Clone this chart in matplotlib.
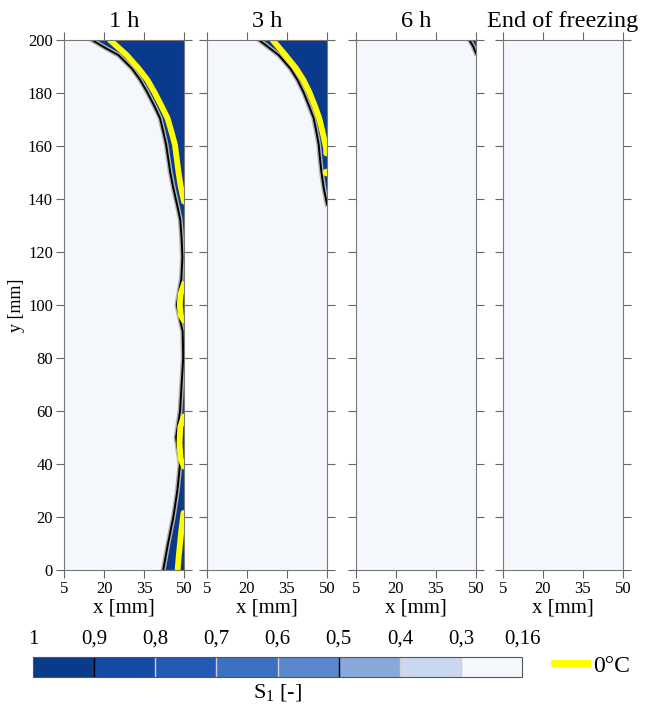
import numpy as np
import matplotlib
matplotlib.use('Agg')
from matplotlib import pyplot as plt
from matplotlib.colors import ListedColormap, BoundaryNorm
from matplotlib.cm import ScalarMappable
from matplotlib.lines import Line2D

plt.rcParams['font.family'] = 'Liberation Serif'
plt.rcParams['mathtext.fontset'] = 'custom'
plt.rcParams['mathtext.rm'] = 'Liberation Serif'

# todo: panel titles and axis ticks
titles = ['1 h', '3 h', '6 h', 'End of freezing']
x_ticks = [5, 20, 35, 50]
y_ticks = [0, 20, 40, 60, 80, 100, 120, 140, 160, 180, 200]

# todo: freezing front (edge of the S1 = 1 zone)
front_y_1h = [200, 197, 194.3, 189.3, 185, 180.3, 175, 170.5, 165, 160.4, 155,
              150.3, 145, 140, 136, 132, 125, 118, 110, 100, 90, 80, 70, 60,
              50, 40, 30, 20, 10, 0]
front_x_1h = [15.5, 20.5, 25.4, 30.4, 33.5, 36.2, 38.9, 41, 42.3, 43.3, 44.1,
              44.8, 45.8, 46.9, 47.8, 48.6, 49.1, 49.4, 49, 47.3, 49.5, 49.7,
              49.1, 48.5, 47, 48.5, 47.5, 46, 44, 42.2]
front_y_3h = [200, 194.3, 189.3, 185, 180.3, 175, 170.5, 165, 160.4, 155,
              150.3, 144, 138]
front_x_3h = [24.5, 31.9, 36.2, 38.9, 41.2, 43.3, 45, 46.1, 46.9, 47.4, 47.9,
              48.8, 50]
front_y_6h = [200, 197.5, 195]
front_x_6h = [47.5, 49, 50]
front_y_end = []
front_x_end = []

# todo: 0 degC isotherm pieces
iso_1h = [
    ([22.2, 28.5, 32.9, 36.2, 38.9, 41.6, 43.8, 45.4, 46.6, 47.3, 47.9, 48.7,
      49.7, 50],
     [200, 194.3, 189.3, 185, 180.3, 175, 170.5, 165, 160.4, 155, 150.3, 145,
      140.3, 139]),
    ([50, 48.7, 48.4, 48.8, 50], [108, 104, 100, 96, 94]),
    ([50, 48.6, 48.3, 48.7, 50], [58, 54, 48, 42, 39]),
    ([49.8, 49, 48.5, 48, 47.6], [21.5, 15, 10, 5, 0]),
]
iso_3h = [
    ([29.6, 34.4, 38.4, 41.1, 43.4, 45.5, 47.1, 48.4, 49.4, 49.7, 49.7],
     [200, 194.3, 189.3, 185, 180.3, 175, 170.5, 165, 160.4, 159, 157.2]),
    ([49.6], [150.3]),
]
iso_6h = []
iso_end = []

fronts = [(front_x_1h, front_y_1h), (front_x_3h, front_y_3h),
          (front_x_6h, front_y_6h), (front_x_end, front_y_end)]
isotherms = [iso_1h, iso_3h, iso_6h, iso_end]

# todo: S1 colour classes
s1_bounds = [0.16, 0.3, 0.4, 0.5, 0.6, 0.7, 0.8, 0.9, 1.0]
s1_colors = ['#f4f8fd', '#c9d8ee', '#88a8da', '#5b87cf', '#3d6fc2', '#2459b5',
             '#1449a6', '#0a3a8c']

fig = plt.figure(figsize=(6.54, 7.13), dpi=100)
lefts = [0.0979, 0.3165, 0.5443, 0.7691]

for i in range(4):
    ax = fig.add_axes([lefts[i], 0.2006, 0.1835, 0.7433])
    ax.set_facecolor(s1_colors[0])
    fx, fy = fronts[i]
    if len(fx):
        ax.fill_betweenx(fy, fx, 50, color=s1_colors[-1], lw=0)
        ax.plot(fx, fy, color='#b0b0b0', lw=3.5)
        ax.plot(fx, fy, color='black', lw=1.4)
    for xs, ys in isotherms[i]:
        if len(xs) == 1:
            ax.plot(xs, ys, 'o', color='#ffff00', ms=5.5, mec='none')
        else:
            ax.plot(xs, ys, color='#ffff00', lw=4.2, solid_capstyle='round')
    ax.set_xlim(5, 50)
    ax.set_ylim(0, 200)
    ax.set_xticks(x_ticks)
    ax.set_yticks(y_ticks)
    ax.tick_params(direction='out', length=6, color='#666666', top=True,
                   right=True, labelsize=12, pad=2)
    if i > 0:
        ax.tick_params(labelleft=False)
    for s in ax.spines.values():
        s.set_color('#777777')
    ax.set_title(titles[i], fontsize=17.5, pad=9)
    ax.set_xlabel('x [mm]', fontsize=15, labelpad=1)
    if i == 0:
        ax.set_ylabel('y [mm]', fontsize=13, labelpad=2)

# todo: colour bar
cmap = ListedColormap(s1_colors)
norm = BoundaryNorm(s1_bounds, cmap.N)
sm = ScalarMappable(norm=norm, cmap=cmap)
cax = fig.add_axes([0.0505, 0.0505, 0.748, 0.028])
cb = fig.colorbar(sm, cax=cax, orientation='horizontal', spacing='uniform',
                  ticks=s1_bounds)
cax.invert_xaxis()
cax.xaxis.set_ticks_position('top')
cax.set_xticklabels([('%g' % b).replace('.', ',') for b in s1_bounds])
cax.tick_params(length=0, labelsize=15, pad=6)
for b in s1_bounds[1:-1]:
    cax.axvline(b, color='black' if b in (0.9, 0.5) else '#d0d0d0', lw=1)
cb.outline.set_edgecolor('#555555')
cb.outline.set_linewidth(0.8)
cax.xaxis.set_label_position('bottom')
cb.set_label(r'S$_\mathrm{1}$ [-]', fontsize=16, labelpad=4)

fig.legend(handles=[Line2D([], [], color='#ffff00', lw=5)], labels=['0°C'],
           loc='center left', bbox_to_anchor=(0.815, 0.066), frameon=False,
           handlelength=1.4, handletextpad=0.25, fontsize=17)

fig.savefig('out.png', dpi=100)
